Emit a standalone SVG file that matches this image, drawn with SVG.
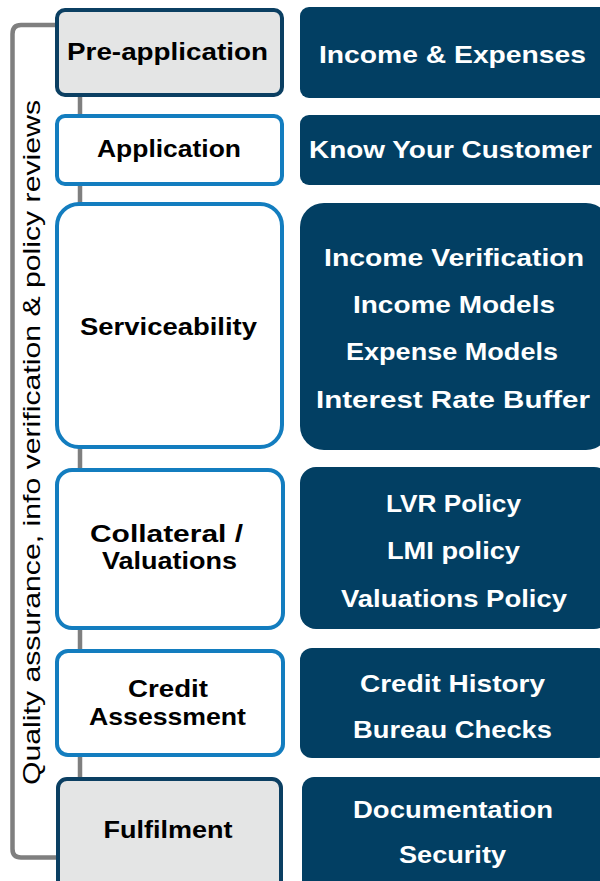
<svg xmlns="http://www.w3.org/2000/svg" width="600" height="881" viewBox="0 0 600 881">
<style>
.lbl{font-family:"Liberation Sans",Arial,sans-serif;font-weight:bold;font-size:24px;fill:#000;text-anchor:middle}
.rt{font-family:"Liberation Sans",Arial,sans-serif;font-weight:bold;font-size:24px;fill:#fff;text-anchor:middle}
.side{font-family:"Liberation Sans",Arial,sans-serif;font-size:24px;fill:#000;text-anchor:middle}
.gray{fill:#e4e5e5;stroke:#0b3f62;stroke-width:4}
.blue{fill:#fff;stroke:#137dbf;stroke-width:4}
.dark{fill:#023f63}
.line{fill:none;stroke:#7f7f7f;stroke-width:4.5}
</style>
<rect width="600" height="881" fill="#fff"/>
<g id="connectors">
<path class="line" d="M56,25 H21 Q12.5,25 12.5,34 V849 Q12.5,857.5 21,857.5 H58"/>
<line class="line" x1="80" y1="95" x2="80" y2="779"/>
</g>
<g id="qa-label">
<text class="side" transform="translate(40,442.5) rotate(-90)" textLength="685" lengthAdjust="spacingAndGlyphs">Quality assurance, info verification &amp; policy reviews</text>
</g>
<g id="pre-application">
<rect class="gray" x="57" y="10" width="225" height="85" rx="8"/>
<text class="lbl" x="167.5" y="60" textLength="201" lengthAdjust="spacingAndGlyphs">Pre-application</text>
</g>
<g id="application">
<rect class="blue" x="57" y="116" width="225" height="68" rx="8"/>
<text class="lbl" x="169" y="157" textLength="144" lengthAdjust="spacingAndGlyphs">Application</text>
</g>
<g id="serviceability">
<rect class="blue" x="57" y="204" width="225" height="243" rx="22"/>
<text class="lbl" x="168.5" y="335" textLength="177" lengthAdjust="spacingAndGlyphs">Serviceability</text>
</g>
<g id="collateral">
<rect class="blue" x="57" y="470" width="226" height="158" rx="15"/>
<text class="lbl" x="166.5" y="542" textLength="153" lengthAdjust="spacingAndGlyphs">Collateral /</text>
<text class="lbl" x="169.5" y="569" textLength="135" lengthAdjust="spacingAndGlyphs">Valuations</text>
</g>
<g id="credit-assessment">
<rect class="blue" x="57" y="651" width="226" height="104" rx="11"/>
<text class="lbl" x="168" y="697" textLength="80" lengthAdjust="spacingAndGlyphs">Credit</text>
<text class="lbl" x="167.5" y="725" textLength="157" lengthAdjust="spacingAndGlyphs">Assessment</text>
</g>
<g id="fulfilment">
<rect class="gray" x="58" y="779" width="223" height="125" rx="9"/>
<text class="lbl" x="168" y="838" textLength="129" lengthAdjust="spacingAndGlyphs">Fulfilment</text>
</g>
<g id="income-expenses">
<rect class="dark" x="300" y="7" width="310" height="91" rx="9"/>
<text class="rt" x="452.5" y="63" textLength="267" lengthAdjust="spacingAndGlyphs">Income &amp; Expenses</text>
</g>
<g id="kyc">
<rect class="dark" x="300" y="115" width="310" height="70" rx="9"/>
<text class="rt" x="450.5" y="158" textLength="283" lengthAdjust="spacingAndGlyphs">Know Your Customer</text>
</g>
<g id="serviceability-items">
<rect class="dark" x="300" y="203" width="310" height="247" rx="24"/>
<text class="rt" x="454" y="266" textLength="260" lengthAdjust="spacingAndGlyphs">Income Verification</text>
<text class="rt" x="454" y="313" textLength="202" lengthAdjust="spacingAndGlyphs">Income Models</text>
<text class="rt" x="452" y="360" textLength="212" lengthAdjust="spacingAndGlyphs">Expense Models</text>
<text class="rt" x="453" y="408" textLength="274" lengthAdjust="spacingAndGlyphs">Interest Rate Buffer</text>
</g>
<g id="collateral-items">
<rect class="dark" x="300" y="467" width="310" height="162" rx="16"/>
<text class="rt" x="453.5" y="512" textLength="135" lengthAdjust="spacingAndGlyphs">LVR Policy</text>
<text class="rt" x="453.5" y="559" textLength="133" lengthAdjust="spacingAndGlyphs">LMI policy</text>
<text class="rt" x="454" y="607" textLength="226" lengthAdjust="spacingAndGlyphs">Valuations Policy</text>
</g>
<g id="credit-items">
<rect class="dark" x="300" y="648" width="310" height="110" rx="12"/>
<text class="rt" x="452.5" y="692" textLength="185" lengthAdjust="spacingAndGlyphs">Credit History</text>
<text class="rt" x="452.5" y="738" textLength="199" lengthAdjust="spacingAndGlyphs">Bureau Checks</text>
</g>
<g id="fulfilment-items">
<rect class="dark" x="302" y="777" width="310" height="125" rx="12"/>
<text class="rt" x="453" y="818" textLength="200" lengthAdjust="spacingAndGlyphs">Documentation</text>
<text class="rt" x="452.5" y="863" textLength="107" lengthAdjust="spacingAndGlyphs">Security</text>
</g>
</svg>
